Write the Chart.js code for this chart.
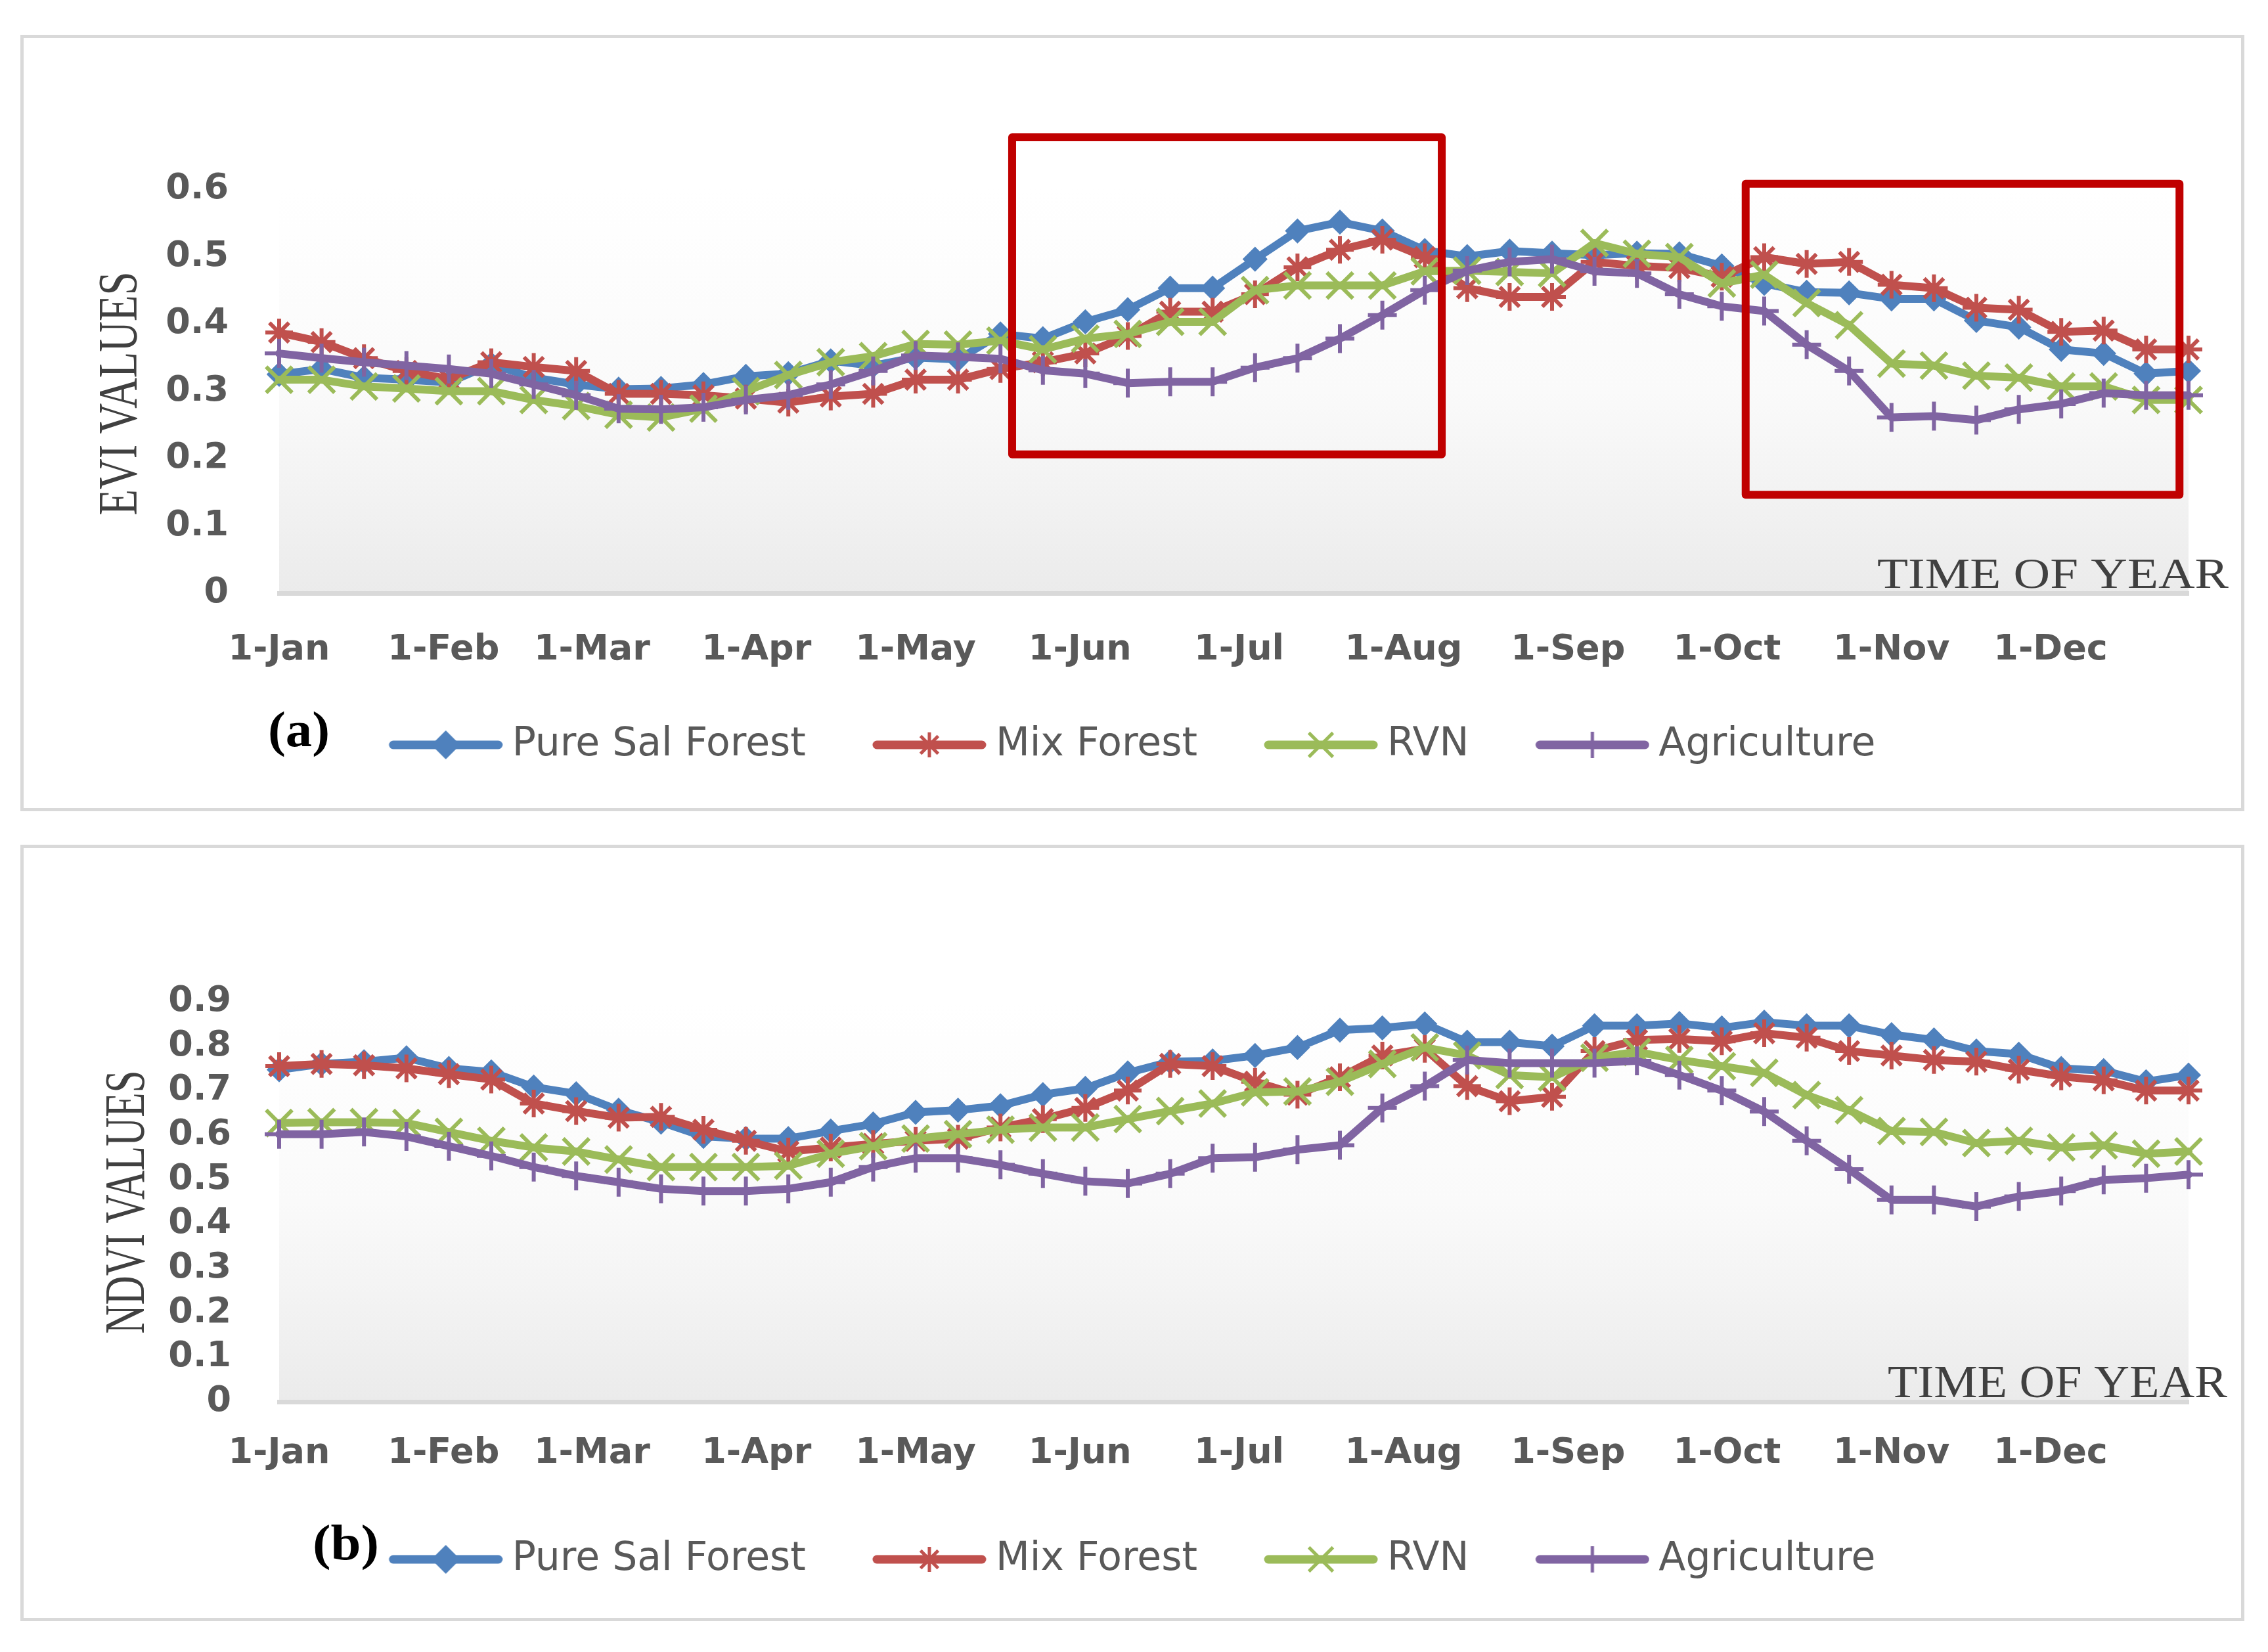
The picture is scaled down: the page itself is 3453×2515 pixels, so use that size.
<!DOCTYPE html>
<html>
<head>
<meta charset="utf-8">
<script src="https://cdn.jsdelivr.net/npm/chart.js@4.4.1/dist/chart.umd.min.js"></script>
<style>
html,body{margin:0;padding:0;background:#ffffff;}
body{width:3453px;height:2515px;position:relative;overflow:hidden;}
.panel{position:absolute;border:5px solid #d9d9d9;box-sizing:border-box;}
canvas{position:absolute;left:0;}
</style>
</head>
<body>
<div class="panel" style="left:31px;top:53px;width:3386px;height:1182px"></div>
<div class="panel" style="left:31px;top:1286px;width:3386px;height:1182px"></div>
<canvas id="chartA" width="3453" height="1260" style="top:0px"></canvas>
<canvas id="chartB" width="3453" height="1255" style="top:1260px"></canvas>
<script>
// ---------- DATA ----------
const compositeDays = [0,8,16,24,32,40,48,56,64,72,80,88,96,104,112,120,128,136,144,152,160,168,176,184,192,200,208,216,224,232,240,248,256,264,272,280,288,296,304,312,320,328,336,344,352,360];
const monthDays = [0,31,59,90,120,151,181,212,243,273,304,334];
const monthLabels = ['1-Jan','1-Feb','1-Mar','1-Apr','1-May','1-Jun','1-Jul','1-Aug','1-Sep','1-Oct','1-Nov','1-Dec'];
const seriesNames = ['Pure Sal Forest','Mix Forest','RVN','Agriculture'];

const eviTickLabels = ['0','0.1','0.2','0.3','0.4','0.5','0.6'];
const ndviTickLabels = ['0','0.1','0.2','0.3','0.4','0.5','0.6','0.7','0.8','0.9'];

const eviPureSal = [0.325,0.333,0.320,0.317,0.313,0.340,0.320,0.310,0.303,0.304,
  0.310,0.322,0.326,0.345,0.338,0.350,0.347,0.385,0.378,0.403,
  0.421,0.453,0.453,0.496,0.538,0.551,0.538,0.509,0.500,0.508,
  0.505,0.502,0.505,0.504,0.486,0.460,0.447,0.446,0.437,0.437,
  0.405,0.395,0.362,0.356,0.326,0.330];
const eviMix = [0.387,0.373,0.349,0.330,0.318,0.343,0.336,0.330,0.296,0.296,
  0.294,0.289,0.283,0.292,0.296,0.317,0.317,0.333,0.343,0.356,
  0.382,0.418,0.418,0.444,0.484,0.510,0.525,0.499,0.453,0.440,
  0.440,0.492,0.486,0.483,0.470,0.499,0.489,0.492,0.458,0.453,
  0.424,0.421,0.388,0.390,0.362,0.362];
const eviRVN = [0.317,0.317,0.307,0.304,0.300,0.300,0.287,0.278,0.265,0.261,
  0.274,0.300,0.324,0.343,0.352,0.370,0.369,0.375,0.362,0.378,
  0.385,0.403,0.403,0.450,0.457,0.457,0.457,0.478,0.479,0.477,
  0.475,0.520,0.504,0.499,0.460,0.473,0.431,0.398,0.341,0.338,
  0.323,0.320,0.307,0.307,0.287,0.287];
const eviAgri = [0.356,0.349,0.343,0.338,0.333,0.326,0.310,0.294,0.274,0.273,
  0.276,0.287,0.294,0.310,0.330,0.353,0.351,0.348,0.331,0.326,
  0.312,0.314,0.314,0.335,0.349,0.378,0.413,0.450,0.479,0.492,
  0.496,0.478,0.475,0.444,0.426,0.419,0.369,0.330,0.261,0.263,
  0.257,0.273,0.281,0.297,0.294,0.294];

const ndviPureSal = [0.747,0.760,0.765,0.774,0.750,0.742,0.708,0.693,0.656,0.629,
  0.597,0.592,0.592,0.609,0.625,0.651,0.656,0.666,0.691,0.705,
  0.740,0.765,0.767,0.779,0.797,0.836,0.841,0.850,0.809,0.809,
  0.800,0.846,0.846,0.851,0.841,0.854,0.846,0.846,0.826,0.814,
  0.789,0.782,0.750,0.745,0.720,0.735];
const ndviMix = [0.755,0.760,0.757,0.750,0.737,0.725,0.671,0.654,0.639,0.641,
  0.612,0.587,0.563,0.572,0.580,0.587,0.592,0.617,0.636,0.661,
  0.700,0.760,0.755,0.720,0.691,0.730,0.779,0.794,0.710,0.676,
  0.686,0.789,0.814,0.816,0.811,0.829,0.819,0.789,0.779,0.769,
  0.765,0.747,0.732,0.723,0.700,0.700];
const ndviRVN = [0.627,0.629,0.629,0.627,0.607,0.587,0.572,0.563,0.545,0.528,
  0.528,0.528,0.531,0.558,0.575,0.592,0.602,0.612,0.617,0.617,
  0.636,0.654,0.671,0.696,0.698,0.720,0.760,0.797,0.779,0.735,
  0.730,0.774,0.787,0.769,0.755,0.740,0.690,0.656,0.609,0.607,
  0.582,0.587,0.572,0.577,0.558,0.563];
const ndviAgri = [0.602,0.602,0.607,0.597,0.575,0.553,0.528,0.508,0.494,0.479,
  0.474,0.474,0.479,0.494,0.528,0.548,0.548,0.533,0.513,0.496,
  0.491,0.513,0.548,0.550,0.567,0.577,0.661,0.710,0.769,0.762,
  0.762,0.762,0.767,0.735,0.700,0.653,0.587,0.523,0.454,0.454,
  0.439,0.462,0.474,0.499,0.503,0.511];

// highlight boxes on the EVI panel (data units: day of year, EVI value)
const eviHighlightBoxes = [
  {x0: 138.2, x1: 219.2, y0: 0.206, y1: 0.677},
  {x0: 276.5, x1: 358.3, y0: 0.146, y1: 0.608}
];

// ---------- STYLE ----------
const seriesColors = ['#4F81BD','#C0504D','#9BBB59','#8064A2'];
const seriesMarkers = ['rectRot','star','crossRot','cross'];
const markerRadius = [17,21,28,22];
const markerStroke = [3,6,6,6];
const drawOrder = [3,2,1,0];
const tickFont = {family: 'DejaVu Sans', size: 54, weight: 'bold'};
const legendFont = {family: 'DejaVu Sans', size: 60};
const LEGEND_PAD = 76;
const LEGEND_BOX = 183;

function buildDatasets(valueArrays) {
  return valueArrays.map((vals, k) => ({
    label: seriesNames[k],
    data: compositeDays.map((d, i) => ({x: d, y: vals[i]})),
    borderColor: seriesColors[k],
    backgroundColor: seriesColors[k],
    borderWidth: 12,
    borderJoinStyle: 'round',
    borderCapStyle: 'round',
    pointStyle: seriesMarkers[k],
    pointRadius: markerRadius[k],
    pointBorderWidth: markerStroke[k],
    pointBackgroundColor: seriesColors[k],
    pointBorderColor: seriesColors[k],
    tension: 0,
    clip: false,
    order: drawOrder[k]
  }));
}

function makeLegendIcon(k) {
  const c = document.createElement('canvas');
  c.width = 215; c.height = 64;
  const g = c.getContext('2d');
  const off = 41;
  const col = seriesColors[k], cx = off + 87, cy = 32;
  g.strokeStyle = col; g.fillStyle = col;
  g.lineCap = 'round'; g.lineWidth = 13;
  g.beginPath(); g.moveTo(off + 7, cy); g.lineTo(off + 167, cy); g.stroke();
  g.lineCap = 'butt'; g.lineWidth = 5;
  const st = seriesMarkers[k];
  if (st === 'rectRot') {
    const r = 22;
    g.beginPath(); g.moveTo(cx, cy - r); g.lineTo(cx + r, cy); g.lineTo(cx, cy + r); g.lineTo(cx - r, cy); g.closePath(); g.fill();
  } else {
    const r = markerRadius[k] - 2;
    g.beginPath();
    if (st === 'cross' || st === 'star') {
      g.moveTo(cx, cy - r); g.lineTo(cx, cy + r);
      g.moveTo(cx - r, cy); g.lineTo(cx + r, cy);
    }
    if (st === 'crossRot' || st === 'star') {
      const d = r * Math.SQRT1_2;
      g.moveTo(cx - d, cy - d); g.lineTo(cx + d, cy + d);
      g.moveTo(cx + d, cy - d); g.lineTo(cx - d, cy + d);
    }
    g.stroke();
  }
  return c;
}
const legendIcons = seriesNames.map((n, k) => makeLegendIcon(k));

const plotBackground = {
  id: 'plotBackground',
  beforeDraw(chart) {
    const {ctx, chartArea: a} = chart;
    const g = ctx.createLinearGradient(0, a.top, 0, a.bottom);
    g.addColorStop(0, '#ffffff');
    g.addColorStop(0.5, '#fafafa');
    g.addColorStop(1, '#ebebeb');
    ctx.save();
    ctx.fillStyle = g;
    ctx.fillRect(a.left, a.top, a.right - a.left, a.bottom - a.top);
    ctx.restore();
  }
};

function boxesPlugin(boxes) {
  return {
    id: 'highlightBoxes',
    afterDatasetsDraw(chart) {
      if (!boxes) return;
      const {ctx, scales: {x, y}} = chart;
      ctx.save();
      ctx.strokeStyle = '#C00000';
      ctx.lineWidth = 12;
      ctx.lineJoin = 'round';
      boxes.forEach(b => {
        const l = x.getPixelForValue(b.x0), r = x.getPixelForValue(b.x1);
        const t = y.getPixelForValue(b.y1), btm = y.getPixelForValue(b.y0);
        ctx.strokeRect(l, t, r - l, btm - t);
      });
      ctx.restore();
    }
  };
}

function textPlugin(t) {
  return {
    id: 'panelTexts',
    afterDraw(chart) {
      const ctx = chart.ctx;
      // rotated y-axis title
      ctx.save();
      let F = t.yTitleCap / 0.655;
      ctx.font = F + 'px "Liberation Serif"';
      let w = ctx.measureText(t.yTitle).width;
      ctx.translate(t.yTitleBaseX, t.yTitleCenterY);
      ctx.rotate(-Math.PI / 2);
      ctx.scale(t.yTitleLen / w, 1);
      ctx.fillStyle = '#404040';
      ctx.textAlign = 'center';
      ctx.textBaseline = 'alphabetic';
      ctx.fillText(t.yTitle, 0, 0);
      ctx.restore();
      // x-axis title inside the plot
      ctx.save();
      F = t.xTitleCap / 0.655;
      ctx.font = F + 'px "Liberation Serif"';
      w = ctx.measureText(t.xTitle).width;
      ctx.translate(t.xTitleRight, t.xTitleBase);
      ctx.scale(t.xTitleWidth / w, 1);
      ctx.fillStyle = '#404040';
      ctx.textAlign = 'right';
      ctx.textBaseline = 'alphabetic';
      ctx.fillText(t.xTitle, 0, 0);
      ctx.restore();
      // panel label
      ctx.save();
      ctx.font = 'bold 76px "Liberation Serif"';
      w = ctx.measureText(t.panelLabel).width;
      ctx.translate(t.panelLeft, t.panelBase);
      ctx.scale(t.panelWidth / w, 1);
      ctx.fillStyle = '#000000';
      ctx.textAlign = 'left';
      ctx.textBaseline = 'alphabetic';
      ctx.fillText(t.panelLabel, 0, 0);
      ctx.restore();
    }
  };
}

function makeChart(canvasId, opt) {
  return new Chart(document.getElementById(canvasId), {
    type: 'line',
    data: {datasets: buildDatasets(opt.series)},
    options: {
      responsive: false,
      animation: false,
      devicePixelRatio: 1,
      events: [],
      layout: {padding: {left: 90, right: 121, top: opt.padTop, bottom: opt.padBottom}},
      scales: {
        x: {
          type: 'linear', min: 0, max: 360,
          afterBuildTicks: s => { s.ticks = monthDays.map(v => ({value: v})); },
          afterFit: s => { s.height = opt.xAxisHeight; },
          grid: {display: false, drawTicks: false},
          border: {display: true, color: '#d9d9d9', width: 7},
          ticks: {autoSkip: false, maxRotation: 0, minRotation: 0, padding: opt.xTickPad,
                  color: '#595959', font: tickFont, callback: (v, i) => monthLabels[i]}
        },
        y: {
          min: 0, max: opt.yMax,
          afterBuildTicks: s => { s.ticks = opt.yLabels.map(l => ({value: parseFloat(l)})); },
          afterFit: s => { s.width = 335; },
          grid: {display: false, drawTicks: false},
          border: {display: false},
          ticks: {autoSkip: false, padding: opt.yTickPad, color: '#595959', font: tickFont,
                  callback: (v, i) => opt.yLabels[i]}
        }
      },
      plugins: {
        tooltip: {enabled: false},
        legend: {
          display: true, position: 'bottom', align: 'center',
          labels: {
            usePointStyle: true, pointStyleWidth: LEGEND_BOX, padding: LEGEND_PAD,
            color: '#595959', font: legendFont,
            generateLabels: chart => chart.data.datasets.map((ds, i) => ({
              text: ds.label, pointStyle: legendIcons[i], fillStyle: seriesColors[i],
              strokeStyle: seriesColors[i], lineWidth: 0, hidden: false, datasetIndex: i,
              fontColor: '#595959'
            }))
          }
        }
      }
    },
    plugins: [plotBackground, boxesPlugin(opt.boxes), textPlugin(opt.texts)]
  });
}

makeChart('chartA', {
  series: [eviPureSal, eviMix, eviRVN, eviAgri],
  yMax: 0.6, yLabels: eviTickLabels,
  padTop: 288, padBottom: 86, xAxisHeight: 125, xTickPad: 55, yTickPad: 77,
  boxes: eviHighlightBoxes,
  texts: {
    yTitle: 'EVI VALUES', yTitleCap: 56, yTitleBaseX: 208, yTitleCenterY: 599, yTitleLen: 371,
    xTitle: 'TIME OF YEAR', xTitleCap: 43, xTitleRight: 3393, xTitleBase: 895, xTitleWidth: 535,
    panelLabel: '(a)', panelLeft: 408, panelBase: 1136, panelWidth: 94
  }
});

makeChart('chartB', {
  series: [ndviPureSal, ndviMix, ndviRVN, ndviAgri],
  yMax: 0.9, yLabels: ndviTickLabels,
  padTop: 265, padBottom: 101, xAxisHeight: 134, xTickPad: 47, yTickPad: 73,
  boxes: null,
  texts: {
    yTitle: 'NDVI VALUES', yTitleCap: 57, yTitleBaseX: 219, yTitleCenterY: 570, yTitleLen: 401,
    xTitle: 'TIME OF YEAR', xTitleCap: 46, xTitleRight: 3391, xTitleBase: 867, xTitleWidth: 517,
    panelLabel: '(b)', panelLeft: 476, panelBase: 1114, panelWidth: 101
  }
});
</script>
</body>
</html>
